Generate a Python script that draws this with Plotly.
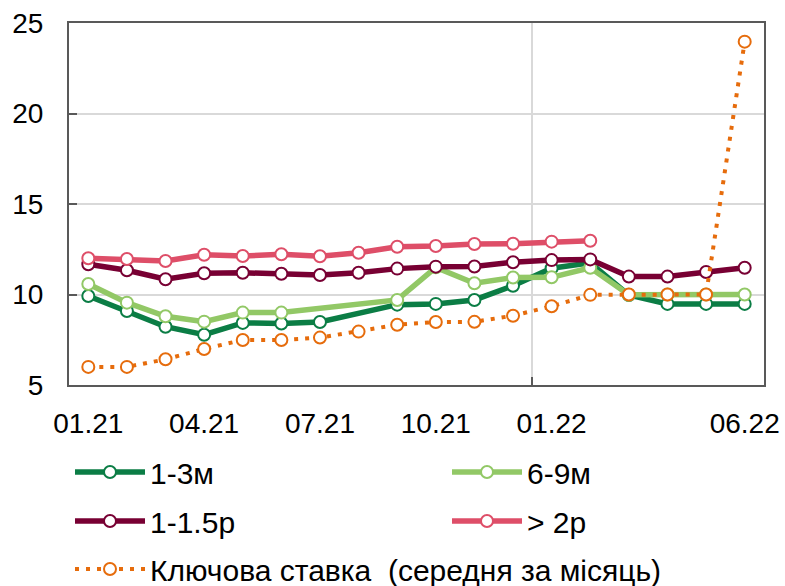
import plotly.graph_objects as go

# Monthly periods, Jan 2021 .. Jun 2022
months = ["01.21", "02.21", "03.21", "04.21", "05.21", "06.21", "07.21", "08.21", "09.21",
          "10.21", "11.21", "12.21", "01.22", "02.22", "03.22", "04.22", "05.22", "06.22"]
tick_months = ["01.21", "04.21", "07.21", "10.21", "01.22", "06.22"]

# Deposit rates by term, %
rate_1_3m = [9.92, 9.09, 8.22, 7.78, 8.43, 8.40, 8.48, None, 9.44, 9.48,
             9.70, 10.48, 11.45, 11.75, 9.97, 9.48, 9.48, 9.48]
rate_6_9m = [10.58, 9.55, 8.80, 8.50, 9.00, 9.00, None, None, 9.70, 11.50,
             10.62, 10.94, 10.95, 11.48, 9.98, 10.0, 10.0, 10.0]
rate_1_1_5y = [11.67, 11.34, 10.84, 11.17, 11.20, 11.15, 11.08, 11.20, 11.43, 11.54,
               11.55, 11.78, 11.90, 11.94, 10.99, 10.99, 11.24, 11.48]
rate_2y_plus = [12.00, 11.96, 11.85, 12.20, 12.13, 12.22, 12.11, 12.31, 12.64, 12.68,
                12.79, 12.80, 12.92, 12.97, None, None, None, None]
# NBU key policy rate, monthly average, %
key_rate = [6.00, 6.00, 6.42, 6.99, 7.49, 7.49, 7.62, 7.95, 8.33, 8.48,
            8.49, 8.83, 9.35, 9.98, 10.0, 10.0, 10.0, 23.97]

x_idx = list(range(len(months)))
tick_idx = [months.index(m) for m in tick_months]
year_break = months.index("01.22") - 0.5

FONT = "Liberation Sans, Arial, sans-serif"
FRAME = "#595959"
GRID = "#D9D9D9"

series = [
    ("1-3м", rate_1_3m, "#0B7D45", "legend"),
    ("6-9м", rate_6_9m, "#92C866", "legend2"),
    ("1-1.5р", rate_1_1_5y, "#780033", "legend3"),
    ("> 2р", rate_2y_plus, "#DE4E68", "legend4"),
]

fig = go.Figure()
for name, vals, color, lg in series:
    fig.add_trace(go.Scatter(
        x=x_idx, y=vals, name=name, mode="lines+markers", connectgaps=True,
        line=dict(color=color, width=5.5),
        marker=dict(symbol="circle", size=12, color="white",
                    line=dict(color=color, width=2)),
        legend=lg, showlegend=True,
    ))

fig.add_trace(go.Scatter(
    x=x_idx, y=key_rate, name="Ключова ставка  (середня за місяць)",
    mode="lines+markers",
    line=dict(color="#E66C0C", width=4, dash="4px,7px"),
    marker=dict(symbol="circle", size=12, color="white",
                line=dict(color="#E66C0C", width=2)),
    legend="legend5", showlegend=True,
))

# plot area in pixels: x 69..764, y 23..385
W, H = 785, 586
L, R, T, B = 69, 21, 23, 201
pw, ph = W - L - R, H - T - B


def lx(px):
    return (px - L) / pw


def ly(py):
    return (H - B - py) / ph


legend_common = dict(
    font=dict(family=FONT, size=30, color="black"),
    bgcolor="rgba(0,0,0,0)", orientation="v", itemwidth=70,
    xanchor="left", yanchor="middle", itemclick=False,
)
fig.update_layout(
    showlegend=True,
    legend=dict(x=lx(70), y=ly(472), **legend_common),
    legend2=dict(x=lx(447), y=ly(472), **legend_common),
    legend3=dict(x=lx(70), y=ly(521), **legend_common),
    legend4=dict(x=lx(447), y=ly(521), **legend_common),
    legend5=dict(x=lx(70), y=ly(569), **legend_common),
)

fig.update_layout(
    width=W, height=H,
    margin=dict(l=L, r=R, t=T, b=B, autoexpand=False),
    paper_bgcolor="white", plot_bgcolor="white",
    font=dict(family=FONT, size=28, color="black"),
    xaxis=dict(
        range=[-0.5, len(months) - 0.5],
        tickmode="array", tickvals=tick_idx, ticktext=tick_months,
        ticks="", showgrid=False, zeroline=False,
        showline=True, linecolor=FRAME, linewidth=2, mirror=True,
        tickfont=dict(family=FONT, size=28, color="black"),
        ticklabelstandoff=12,
        minor=dict(tickmode="array", tickvals=[year_break], showgrid=True,
                   gridcolor=GRID, gridwidth=1.5,
                   ticks="inside", ticklen=8, tickcolor=FRAME, tickwidth=2),
    ),
    yaxis=dict(
        range=[5, 25], tickmode="array", tickvals=[5, 10, 15, 20, 25],
        ticks="inside", ticklen=8, tickcolor=FRAME, tickwidth=2,
        showgrid=True, gridcolor=GRID, gridwidth=1.5, zeroline=False,
        showline=True, linecolor=FRAME, linewidth=2, mirror=True,
        tickfont=dict(family=FONT, size=28, color="black"),
        ticklabelstandoff=18,
    ),
)

fig.write_html("out.html")
